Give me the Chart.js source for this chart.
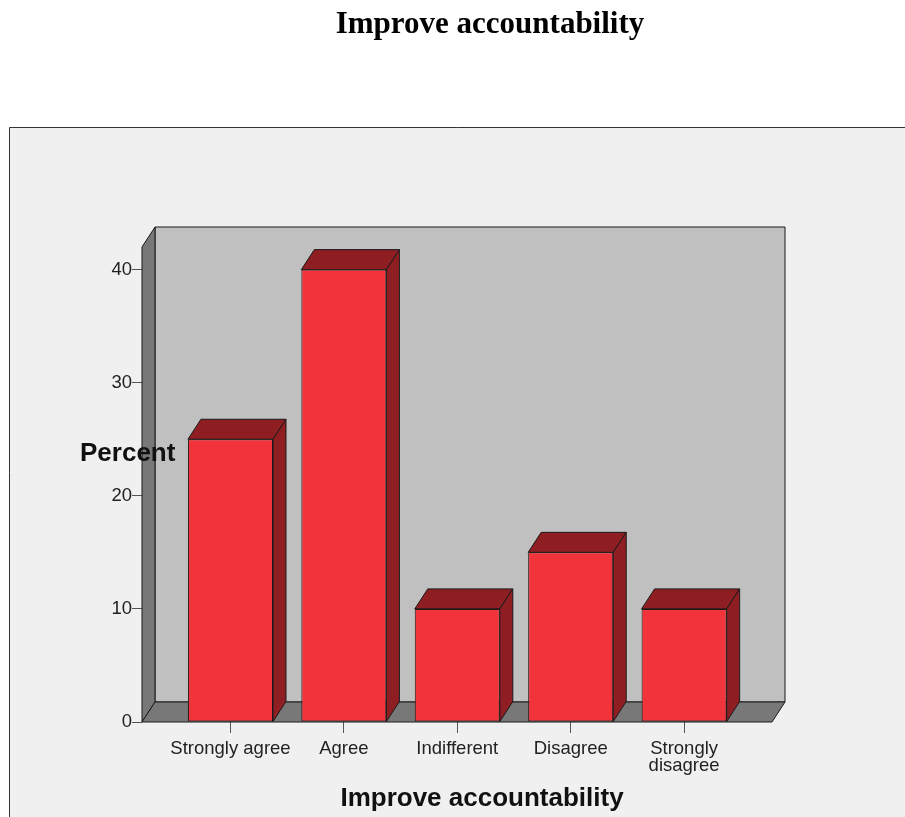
<!DOCTYPE html>
<html>
<head>
<meta charset="utf-8">
<script src="https://cdn.jsdelivr.net/npm/chart.js@4.4.1/dist/chart.umd.min.js"></script>
<style>
    html, body { margin: 0; padding: 0; background: #fff; }
    #wrap { position: relative; width: 905px; height: 817px; }
</style>
</head>
<body>
<div id="wrap"><canvas id="chart"></canvas></div>
<script>
    const categories = ['Strongly agree', 'Agree', 'Indifferent', 'Disagree', ['Strongly', 'disagree']];
    const percents = [25, 40, 10, 15, 10];
    const yTicks = [0, 10, 20, 30, 40];

    const chartTitle = 'Improve accountability';
    const xTitle = 'Improve accountability';
    const yTitle = 'Percent';

    Chart.defaults.font.family = '"Liberation Sans", Arial, sans-serif';
    Chart.defaults.color = '#222';

    // depth of the fake 3d box
    const depth = { dx: 13, dy: -20 };

    const box3d = {
        id: 'box3d',
        beforeDraw(chart) {
            const { ctx, width, height } = chart;
            ctx.save();
            ctx.fillStyle = '#fff';
            ctx.fillRect(0, 0, width, height);
            ctx.fillStyle = '#f0f0f0';
            ctx.fillRect(9, 127, width - 9, height - 127);
            ctx.strokeStyle = '#333';
            ctx.lineWidth = 1;
            ctx.beginPath();
            ctx.moveTo(9.5, height);
            ctx.lineTo(9.5, 127.5);
            ctx.lineTo(width, 127.5);
            ctx.stroke();
            ctx.restore();
        },
        beforeDatasetsDraw(chart) {
            const { ctx, chartArea: a } = chart;
            const { dx, dy } = depth;
            const L = a.left, R = a.right, T = a.top, B = a.bottom;
            ctx.save();
            ctx.lineWidth = 1;
            ctx.strokeStyle = '#1a1a1a';
            ctx.lineJoin = 'round';

            // back wall
            ctx.fillStyle = '#c0c0c0';
            ctx.beginPath();
            ctx.rect(L + dx, T + dy, R - L, B - T);
            ctx.fill();
            ctx.stroke();

            // left wall
            ctx.fillStyle = '#787878';
            ctx.beginPath();
            ctx.moveTo(L, B);
            ctx.lineTo(L, T);
            ctx.lineTo(L + dx, T + dy);
            ctx.lineTo(L + dx, B + dy);
            ctx.closePath();
            ctx.fill();
            ctx.stroke();

            // floor
            ctx.beginPath();
            ctx.moveTo(L, B);
            ctx.lineTo(L + dx, B + dy);
            ctx.lineTo(R + dx, B + dy);
            ctx.lineTo(R, B);
            ctx.closePath();
            ctx.fill();
            ctx.stroke();
            ctx.restore();
        },
        afterDatasetsDraw(chart) {
            const { ctx } = chart;
            const { dx, dy } = depth;
            ctx.save();
            ctx.lineWidth = 1;
            ctx.strokeStyle = '#1a1a1a';
            ctx.fillStyle = '#8f1e23';
            ctx.lineJoin = 'round';
            chart.getDatasetMeta(0).data.forEach(bar => {
                const l = bar.x - bar.width / 2;
                const r = bar.x + bar.width / 2;
                const t = bar.y;
                const b = bar.base;

                ctx.beginPath();
                ctx.moveTo(l, t);
                ctx.lineTo(l + dx, t + dy);
                ctx.lineTo(r + dx, t + dy);
                ctx.lineTo(r, t);
                ctx.closePath();
                ctx.fill();
                ctx.stroke();

                ctx.beginPath();
                ctx.moveTo(r, t);
                ctx.lineTo(r + dx, t + dy);
                ctx.lineTo(r + dx, b + dy);
                ctx.lineTo(r, b);
                ctx.closePath();
                ctx.fill();
                ctx.stroke();
            });
            ctx.restore();
        },
        afterDraw(chart) {
            const { ctx } = chart;
            ctx.save();
            ctx.fillStyle = '#000';
            ctx.textBaseline = 'alphabetic';

            ctx.textAlign = 'center';
            ctx.font = 'bold 31px "Liberation Serif", "Times New Roman", serif';
            ctx.fillText(chartTitle, 490, 33);

            ctx.fillStyle = '#111';
            ctx.font = 'bold 26px "Liberation Sans", Arial, sans-serif';
            ctx.fillText(xTitle, 482, 806);

            ctx.textAlign = 'left';
            ctx.fillText(yTitle, 80, 461);
            ctx.restore();
        }
    };

    new Chart(document.getElementById('chart'), {
        type: 'bar',
        plugins: [box3d],
        data: {
            datasets: [{
                label: 'Percent',
                data: percents.map((v, i) => ({ x: i, y: v })),
                backgroundColor: '#f1333b',
                borderColor: '#1a1a1a',
                borderWidth: 1,
                borderSkipped: false,
                barPercentage: 0.75,
                categoryPercentage: 1
            }]
        },
        options: {
            responsive: true,
            maintainAspectRatio: false,
            animation: false,
            layout: {
                padding: { top: 247, right: 133, left: 0, bottom: 0 }
            },
            plugins: {
                legend: { display: false },
                tooltip: { enabled: false },
                title: { display: false }
            },
            scales: {
                x: {
                    type: 'linear',
                    offset: false,
                    min: -0.78,
                    max: 4.775,
                    afterFit(scale) { scale.height = 95; },
                    afterBuildTicks(scale) {
                        scale.ticks = categories.map((c, i) => ({ value: i }));
                    },
                    border: { display: false },
                    grid: {
                        drawOnChartArea: false,
                        drawTicks: true,
                        tickLength: 11,
                        color: '#555',
                        offset: false
                    },
                    ticks: {
                        autoSkip: false,
                        maxRotation: 0,
                        padding: 7,
                        font: { size: 18.5, lineHeight: 0.93 },
                        callback: v => categories[v]
                    }
                },
                y: {
                    min: 0,
                    max: 42,
                    afterFit(scale) { scale.width = 142; },
                    afterBuildTicks(scale) {
                        scale.ticks = yTicks.map(v => ({ value: v }));
                    },
                    border: { display: false },
                    grid: {
                        drawOnChartArea: false,
                        drawTicks: true,
                        tickLength: 10,
                        color: '#555'
                    },
                    ticks: {
                        padding: 0,
                        font: { size: 18.5 }
                    }
                }
            }
        }
    });
</script>
</body>
</html>
